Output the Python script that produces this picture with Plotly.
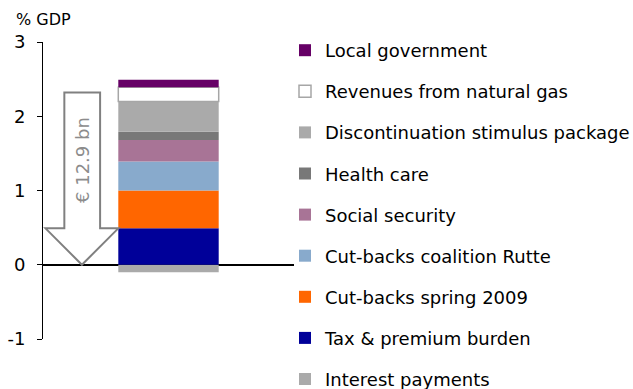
import plotly.graph_objects as go

series_names = [
    "Interest payments",
    "Tax & premium burden",
    "Cut-backs spring 2009",
    "Cut-backs coalition Rutte",
    "Social security",
    "Health care",
    "Discontinuation stimulus package",
    "Revenues from natural gas",
    "Local government",
]
series_values = [-0.10, 0.49, 0.51, 0.39, 0.29, 0.11, 0.41, 0.19, 0.10]
series_colors = ["#AAAAAA", "#000099", "#FF6600", "#88AACC", "#A87496",
                 "#787878", "#AAAAAA", "#FFFFFF", "#660066"]
tick_vals = [-1, 0, 1, 2, 3]
tick_text = ["-1", "0", "1", "2", "3"]
arrow_label = "€ 12.9 bn"

FONT = "DejaVu Sans, Verdana, sans-serif"
W, H = 633, 389
ML, MR, MT, MB = 43, 339, 42, 50
PW = W - ML - MR
PH = H - MT - MB

fig = go.Figure()
n = len(series_names)
for i, (name, val, col) in enumerate(zip(series_names, series_values, series_colors)):
    is_white = col == "#FFFFFF"
    fig.add_trace(go.Bar(
        x=[1], y=[val], name=name, width=0.8, legendgroup=f"g{i}",
        legendrank=n - i,
        marker=dict(color=col,
                    line=dict(color="#A6A6A6" if is_white else col,
                              width=1.5 if is_white else 0)),
    ))

# big down arrow (annotation graphic)
ax_l, ax_sl, ax_sr, ax_r, ax_tip = 0.02, 0.17, 0.455, 0.6, 0.31
ay_top, ay_head, ay_tip = 2.32, 0.49, 0.0
path = (f"M {ax_l},{ay_head} L {ax_sl},{ay_head} L {ax_sl},{ay_top} L {ax_sr},{ay_top} "
        f"L {ax_sr},{ay_head} L {ax_r},{ay_head} L {ax_tip},{ay_tip} Z")
fig.add_shape(type="path", path=path, xref="x", yref="y",
              line=dict(color="#808080", width=2), fillcolor="white", layer="above")
fig.add_annotation(x=ax_tip, y=1.41, xref="x", yref="y", text=arrow_label,
                   textangle=-90, showarrow=False,
                   font=dict(family=FONT, size=18, color="#8C8C8C"))

fig.add_annotation(x=(14 - ML) / PW, y=1 + (MT - 19) / PH, xref="paper", yref="paper",
                   text="% GDP", showarrow=False, xanchor="left", yanchor="middle",
                   font=dict(family=FONT, size=16, color="black"))

fig.update_layout(
    width=W, height=H,
    margin=dict(l=ML, r=MR, t=MT, b=MB, autoexpand=False),
    paper_bgcolor="white", plot_bgcolor="white",
    barmode="relative",
    font=dict(family=FONT, size=18, color="black"),
    xaxis=dict(range=[0, 2], visible=False, fixedrange=True),
    yaxis=dict(range=[-1, 3], tickvals=tick_vals, ticktext=tick_text,
               ticks="outside", ticklen=5, ticklabelstandoff=8,
               tickcolor="black", showline=True, linecolor="black", linewidth=1,
               showgrid=False, zeroline=True, zerolinecolor="black", zerolinewidth=1.5,
               tickfont=dict(family=FONT, size=18, color="black")),
    legend=dict(traceorder="grouped",
                x=(285 - ML) / PW, y=1 + (MT - 32) / PH, xanchor="left", yanchor="top",
                font=dict(family=FONT, size=18, color="black"),
                itemwidth=30, tracegroupgap=14.7, bgcolor="rgba(0,0,0,0)",
                maxheight=600),
    showlegend=True,
)

fig.write_html("out.html")
